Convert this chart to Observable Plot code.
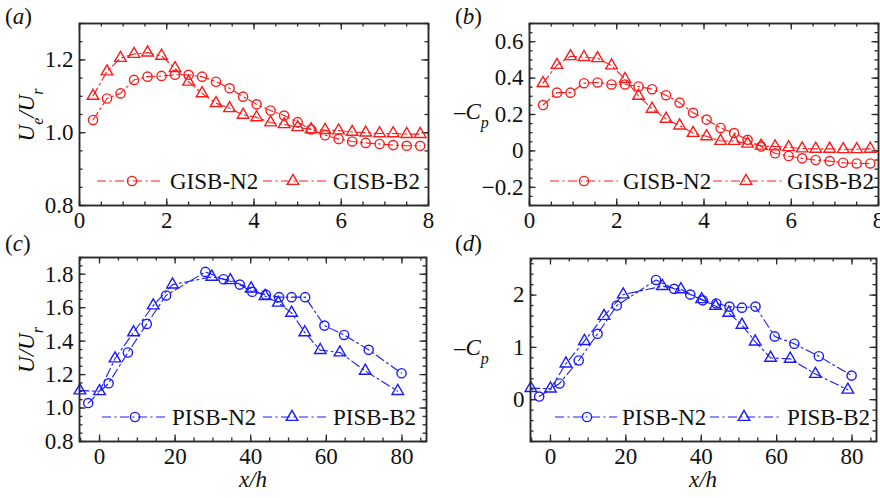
<!DOCTYPE html>
<html><head><meta charset="utf-8">
<script src="https://cdn.jsdelivr.net/npm/d3@7"></script>
<script src="https://cdn.jsdelivr.net/npm/@observablehq/plot@0.6"></script>
<style>
body{margin:0;background:#fff;}
#wrap{position:relative;width:880px;height:498px;overflow:hidden;font-family:"Liberation Serif","Times New Roman",serif;}
.panel{position:absolute;}
#overlay{position:absolute;left:0;top:0;pointer-events:none;}
</style></head><body><div id="wrap"></div>
<script>
// ---------- data ----------
const xG = [0.31,0.63,0.94,1.25,1.56,1.88,2.19,2.5,2.81,3.13,3.44,3.75,4.06,4.38,4.69,5.0,5.31,5.63,5.94,6.25,6.56,6.88,7.19,7.5,7.81];
const aN2 = [1.035,1.094,1.108,1.145,1.154,1.156,1.159,1.159,1.154,1.140,1.122,1.099,1.078,1.061,1.047,1.029,1.009,0.993,0.983,0.976,0.972,0.969,0.966,0.964,0.964];
const aB2 = [1.101,1.168,1.205,1.216,1.220,1.211,1.177,1.140,1.108,1.081,1.067,1.049,1.042,1.028,1.023,1.015,1.009,1.007,1.006,1.002,1.000,0.998,0.998,0.996,0.996];
const bN2 = [0.252,0.320,0.320,0.372,0.376,0.365,0.365,0.354,0.339,0.306,0.265,0.209,0.172,0.126,0.098,0.061,0.024,-0.013,-0.028,-0.041,-0.050,-0.056,-0.065,-0.069,-0.069];
const bB2 = [0.372,0.472,0.520,0.515,0.509,0.469,0.394,0.302,0.231,0.176,0.139,0.098,0.080,0.054,0.054,0.039,0.028,0.024,0.020,0.013,0.011,0.011,0.009,0.009,0.011];

const xPN2 = [-3,2.4,7.5,12.5,17.6,28,32.8,37.1,40.4,44,47.5,50.8,54.4,59.5,64.7,71.2,79.9];
const cN2 = [1.03,1.148,1.332,1.503,1.673,1.814,1.77,1.738,1.695,1.678,1.663,1.663,1.663,1.493,1.437,1.348,1.208];
const dN2 = [0.06,0.31,0.75,1.26,1.80,2.29,2.12,2.01,1.90,1.84,1.78,1.76,1.78,1.21,1.07,0.83,0.46];
const xPB2 = [-5.2,0,4.1,9,14.2,19.3,29.7,34.6,40.1,43.8,47.3,50.8,54.3,58.4,63.6,70.3,78.9];
const cB2 = [1.105,1.10,1.296,1.452,1.613,1.738,1.784,1.764,1.714,1.669,1.629,1.569,1.452,1.346,1.332,1.222,1.101];
const dB2 = [0.22,0.21,0.69,1.12,1.60,2.01,2.17,2.11,1.92,1.79,1.66,1.43,1.11,0.80,0.78,0.49,0.19];

const seriesG = ["GISB-N2","GISB-B2"];
const seriesP = ["PISB-N2","PISB-B2"];

const ticksXG = [0,2,4,6,8];
const ticksXP = [0,20,40,60,80];
const ticksYa = [0.8,1.0,1.2];
const ticksYb = [-0.2,0,0.2,0.4,0.6];
const ticksYc = [0.8,1.0,1.2,1.4,1.6,1.8];
const ticksYd = [0,1,2];

const RED = "#ff1a1a", BLUE = "#1a1aff", AX = "#2a2a2a";
const FONT = "'Liberation Serif', 'Times New Roman', serif";
const FS = 23;
const DASH = "9,3.5,2,3.5";

const wrap = document.getElementById("wrap");

function rng(a,b,s){const n=Math.floor((b-a)/s+1e-6);return d3.range(n+1).map(i=>+(a+i*s).toFixed(4)).filter(v=>v>=a-1e-9&&v<=b+1e-9);}
const fmt1 = d => d===0 ? "0" : d.toFixed(1).replace("-","\u2212");

function panel(o){
  const innerW = o.width - o.mL - o.mR, innerH = o.height - o.mT - o.mB;
  const majL = 6.5, minL = 3.5, tw = 1.3;
  const tk = (vals, len, side) => side==="b" ? Plot.tickX(vals,{x:d=>d, insetTop: innerH-len, stroke:AX, strokeWidth:tw})
     : side==="t" ? Plot.tickX(vals,{x:d=>d, insetBottom: innerH-len, stroke:AX, strokeWidth:tw})
     : side==="l" ? Plot.tickY(vals,{y:d=>d, insetRight: innerW-len, stroke:AX, strokeWidth:tw})
     : Plot.tickY(vals,{y:d=>d, insetLeft: innerW-len, stroke:AX, strokeWidth:tw});
  const marks = [];
  for (const s of ["b","t"]) { marks.push(tk(o.xMinor, minL, s), tk(o.xMajor, majL, s)); }
  for (const s of ["l","r"]) { marks.push(tk(o.yMinor, minL, s), tk(o.yMajor, majL, s)); }
  marks.push(Plot.axisX({ticks:o.xMajor, tickSize:0, tickPadding:6, tickFormat:o.xFmt, fontSize:FS, label:null}));
  marks.push(Plot.axisY({ticks:o.yMajor, tickSize:0, tickPadding:6, tickFormat:o.yFmt, fontSize:FS, label:null}));
  o.series.forEach((s,i)=>{
    const data = s.x.map((x,j)=>({x, y:s.y[j]}));
    marks.push(Plot.line(data,{x:"x",y:"y",stroke:o.color,strokeWidth:1.1,strokeDasharray:DASH}));
    marks.push(Plot.dot(data,{x:"x",y:"y",symbol:i===0?"circle":"triangle",r:i===0?4.6:4.3,stroke:o.color,fill:"none",strokeWidth:1.4}));
  });
  marks.push(Plot.frame({stroke:AX, strokeWidth:1.9}));
  const svg = Plot.plot({
    width:o.width, height:o.height,
    marginLeft:o.mL, marginRight:o.mR, marginTop:o.mT, marginBottom:o.mB,
    x:{domain:o.xDomain}, y:{domain:o.yDomain},
    style:{fontFamily:FONT, fontSize:FS+"px", background:"transparent", color:"#111", overflow:"visible"},
    marks
  });
  const div = document.createElement("div");
  div.className = "panel";
  div.style.left = o.left+"px"; div.style.top = o.top+"px";
  div.appendChild(svg);
  wrap.appendChild(div);
}

panel({left:0, top:0, width:440, height:240, mL:79, mR:12, mT:23, mB:35,
  xDomain:[0,8], yDomain:[0.8,1.3], xMajor:ticksXG, xMinor:rng(0,8,0.5), yMajor:ticksYa, yMinor:rng(0.8,1.3,0.05),
  xFmt:d=>String(d), yFmt:d=>d.toFixed(1), color:RED,
  series:[{x:xG,y:aN2},{x:xG,y:aB2}]});
panel({left:440, top:0, width:440, height:240, mL:89, mR:2, mT:23, mB:35,
  xDomain:[0,8], yDomain:[-0.3,0.7], xMajor:ticksXG, xMinor:rng(0,8,0.5), yMajor:ticksYb, yMinor:rng(-0.3,0.7,0.05),
  xFmt:d=>String(d), yFmt:fmt1, color:RED,
  series:[{x:xG,y:bN2},{x:xG,y:bB2}]});
panel({left:0, top:240, width:440, height:258, mL:79, mR:14, mT:17, mB:57,
  xDomain:[-5.3,86.5], yDomain:[0.8,1.9], xMajor:ticksXP, xMinor:rng(-5,85,5), yMajor:ticksYc, yMinor:rng(0.8,1.9,0.05),
  xFmt:d=>String(d), yFmt:d=>d.toFixed(1), color:BLUE,
  series:[{x:xPN2,y:cN2},{x:xPB2,y:cB2}]});
panel({left:440, top:240, width:440, height:258, mL:90, mR:4, mT:18, mB:57,
  xDomain:[-5.3,86.5], yDomain:[-0.8,2.7], xMajor:ticksXP, xMinor:rng(-5,85,5), yMajor:ticksYd, yMinor:rng(-0.8,2.7,0.2),
  xFmt:d=>String(d), yFmt:d=>String(d), color:BLUE,
  series:[{x:xPN2,y:dN2},{x:xPB2,y:dB2}]});

// ---------- overlay: titles, panel letters, legends ----------
const ov = d3.select(wrap).append("svg").attr("id","overlay").attr("width",880).attr("height",498)
  .style("font-family",FONT).style("font-size",FS+"px").attr("fill","#111");

function sub(t, main, s){ // italic main + subscript
  t.append("tspan").attr("font-style","italic").text(main);
  t.append("tspan").attr("font-style","italic").attr("font-size","16px").attr("baseline-shift","sub").text(s);
}
// panel letters
[["a",5,24],["b",455,24],["c",5,251],["d",455,251]].forEach(([l,x,y])=>{
  const t = ov.append("text").attr("x",x).attr("y",y);
  t.append("tspan").text("(");
  t.append("tspan").attr("font-style","italic").text(l);
  t.append("tspan").text(")");
});
// y titles
{ const t = ov.append("text").attr("transform","translate(34,115) rotate(-90)").attr("text-anchor","middle");
  sub(t,"U","e"); t.append("tspan").attr("font-style","italic").text("/"); sub(t,"U","r"); }
{ const t = ov.append("text").attr("transform","translate(34,350) rotate(-90)").attr("text-anchor","middle");
  t.append("tspan").attr("font-style","italic").text("U/"); sub(t,"U","r"); }
[[454,119],[454,355]].forEach(([x,y])=>{
  const t = ov.append("text").attr("x",x).attr("y",y);
  t.append("tspan").text("\u2013"); sub(t,"C","p");
});
// x titles
[[253,487],[703,487]].forEach(([x,y])=>{
  ov.append("text").attr("x",x).attr("y",y).attr("text-anchor","middle").attr("font-style","italic").text("x/h");
});
// legends
function legend(y, color, labels, entries){
  entries.forEach((e,i)=>{
    ov.append("line").attr("x1",e[0]).attr("x2",e[1]).attr("y1",y).attr("y2",y)
      .attr("stroke",color).attr("stroke-width",1.1).attr("stroke-dasharray",DASH);
    const sym = d3.symbol(i===0?d3.symbolCircle:d3.symbolTriangle, Math.PI*(i===0?4.6:4.3)**2);
    ov.append("path").attr("d",sym()).attr("transform",`translate(${e[2]},${y})`)
      .attr("fill","none").attr("stroke",color).attr("stroke-width",1.4);
    ov.append("text").attr("x",e[3]).attr("y",y+7.5).text(labels[i]);
  });
}
legend(181, RED, seriesG, [[97,163,132,170],[263,328,293,333]]);
legend(181, RED, seriesG, [[550,618,584,623],[713,782,746,787]]);
legend(417, BLUE, seriesP, [[102,165,135,172],[263,328,292,333]]);
legend(417, BLUE, seriesP, [[555,617,587,622],[710,780,744,787]]);
</script></body></html>
